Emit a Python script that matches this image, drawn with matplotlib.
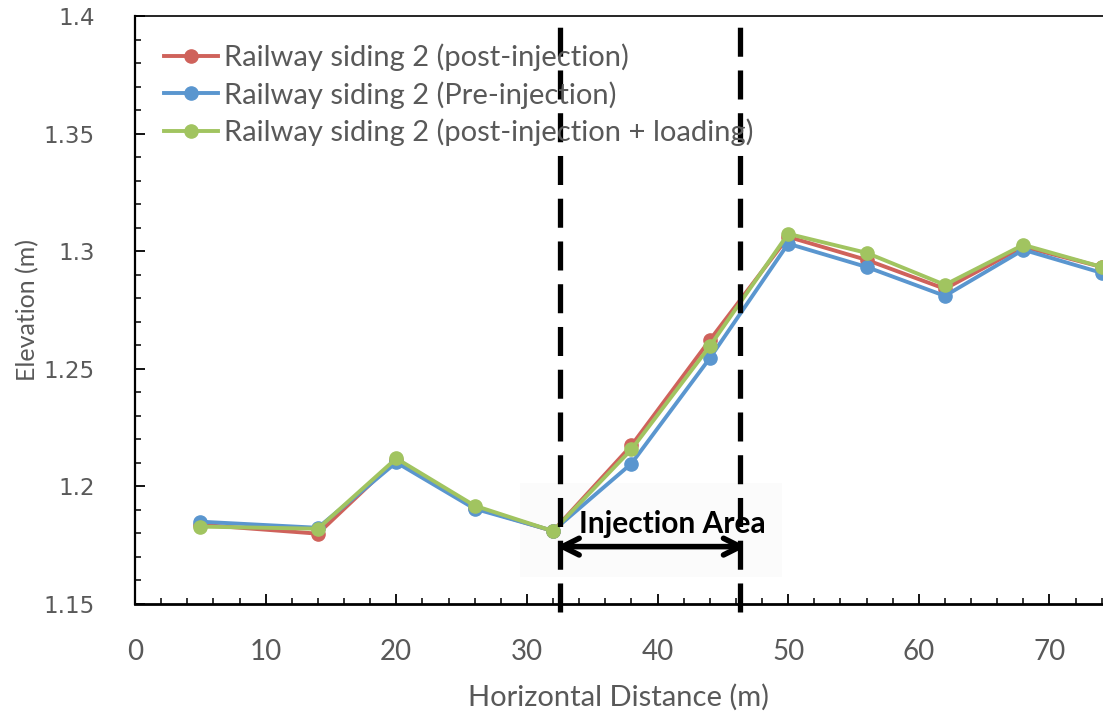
import matplotlib
matplotlib.use("Agg")
import matplotlib.pyplot as plt
from matplotlib.patches import Rectangle

# Survey stations along the siding (m)
distance = [5, 14, 20, 26, 32, 38, 44, 50, 56, 62, 68, 74]

# Elevations (m)
post_injection = [1.1837, 1.1799, 1.2114, 1.1910, 1.1810, 1.2174, 1.2622,
                  1.3061, 1.2963, 1.2840, 1.3019, 1.2933]
pre_injection = [1.1850, 1.1824, 1.2102, 1.1905, 1.1811, 1.2097, 1.2545,
                 1.3032, 1.2933, 1.2810, 1.3006, 1.2908]
post_injection_loading = [1.1829, 1.1820, 1.2119, 1.1918, 1.1810, 1.2157, 1.2596,
                          1.3074, 1.2993, 1.2857, 1.3027, 1.2933]

series_labels = ["Railway siding 2 (post-injection)",
                 "Railway siding 2 (Pre-injection)",
                 "Railway siding 2 (post-injection + loading)"]
series_colors = ["#cf625b", "#5a96cf", "#a1c460"]

x_ticks = [0, 10, 20, 30, 40, 50, 60, 70]
y_ticks = [1.15, 1.2, 1.25, 1.3, 1.35, 1.4]

zone_start, zone_end = 32.5, 46.3
arrow_start, arrow_end = 32.25, 46.8

W, H = 1103, 711
fig = plt.figure(figsize=(W / 100, H / 100), dpi=100)
ax = fig.add_axes([135 / W, 107 / H, (W - 135) / W, 588 / H])

grey = "#595959"

for vals, lab, col in zip([post_injection, pre_injection, post_injection_loading],
                          series_labels, series_colors):
    ax.plot(distance, vals, color=col, lw=2.8, marker="o", ms=9.5,
            markerfacecolor=col, markeredgecolor=col, label=lab, zorder=3)

ax.set_xlim(0, 74.1)
ax.set_ylim(1.15, 1.4)
ax.set_xticks(x_ticks)
ax.set_yticks(y_ticks)
ax.set_yticklabels([f"{v:g}" for v in y_ticks])
ax.set_xticks(range(0, 75, 2), minor=True)
ax.set_yticks([1.15 + 0.01 * i for i in range(26)], minor=True)

ax.tick_params(axis="both", which="major", direction="in", length=7, width=1.3,
               colors="black", labelcolor=grey)
ax.tick_params(axis="both", which="minor", direction="in", length=4, width=1.1,
               colors="black")
ax.tick_params(axis="y", which="major", labelsize=16.5, pad=29)
ax.tick_params(axis="x", which="major", labelsize=20, pad=25)
for t in ax.get_yticklabels():
    t.set_fontfamily("DejaVu Sans")
for t in ax.get_xticklabels():
    t.set_fontfamily("Lato")

ax.spines["right"].set_visible(False)
ax.spines["left"].set_linewidth(1.6)
ax.spines["bottom"].set_linewidth(2.0)
ax.spines["top"].set_linewidth(1.2)

ax.set_xlabel("Horizontal Distance (m)", fontsize=21, color=grey,
              fontfamily="Lato", labelpad=14)
ax.set_ylabel("Elevation (m)", fontsize=18, color=grey,
              fontfamily="Lato", labelpad=3)

# Injection zone boundaries
for xv in (zone_start, zone_end):
    ax.plot([xv, xv], [1.1465, 1.3985], color="black", lw=3.8,
            dashes=(5.5, 2.6), clip_on=False, zorder=4)

# Faint backdrop behind the annotation
ax.add_patch(Rectangle((29.5, 1.1615), 20.0, 0.0400, facecolor="#fbfbfb",
                       edgecolor="none", zorder=1))

ax.annotate("", xy=(arrow_end, 1.1744), xytext=(arrow_start, 1.1744),
            arrowprops=dict(arrowstyle="<->", lw=4, color="black",
                            mutation_scale=30, shrinkA=0, shrinkB=0),
            zorder=5)
ax.text(41.1, 1.1840, "Injection Area", fontsize=21.5, fontweight="bold",
        fontfamily="Lato", ha="center", va="center", color="black", zorder=5)

leg = ax.legend(loc="upper left", bbox_to_anchor=(0.012, 0.983), frameon=False,
                prop={"family": "Lato", "size": 21}, handlelength=1.85,
                handletextpad=0.2, labelspacing=0.34, borderaxespad=0.2)
for t in leg.get_texts():
    t.set_color(grey)

fig.savefig("out.png", dpi=100)
